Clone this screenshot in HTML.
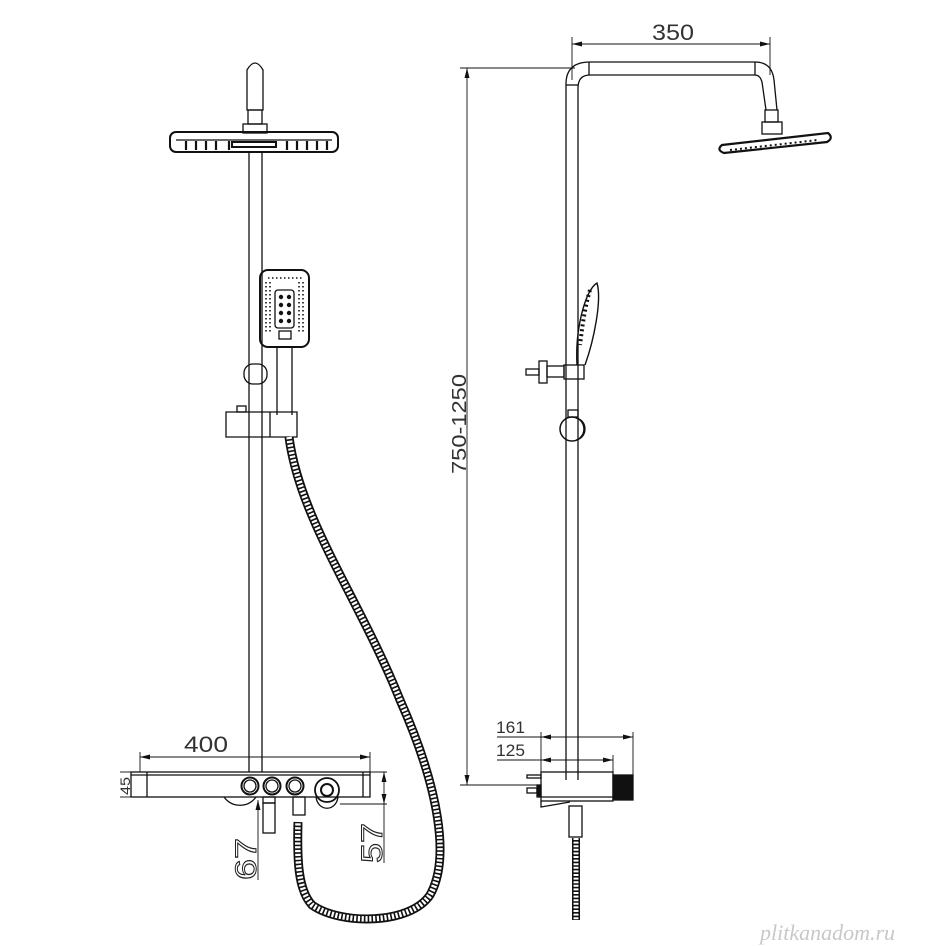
<!DOCTYPE html>
<html><head><meta charset="utf-8"><style>html,body{margin:0;background:#fff}svg{display:block}</style></head><body>
<svg width="946" height="946" viewBox="0 0 946 946" xmlns="http://www.w3.org/2000/svg" font-family="Liberation Sans, sans-serif">
<g fill="none" stroke="#111" stroke-width="1.3">
<!-- LEFT VIEW -->
<path d="M247,110 V70 Q255,56 263,70 V110 Z"/>
<rect x="248" y="110" width="14" height="14"/>
<rect x="243" y="124" width="24" height="9"/>
<rect x="170" y="132" width="168" height="20" rx="6" stroke-width="2"/>
<line x1="176" y1="140" x2="332" y2="140"/>
<g stroke-width="2.2">
<path d="M186,141v9M196,141v9M206,141v9M216,141v9M229,141v9M287,141v9M297,141v9M307,141v9M317,141v9M327,141v9"/>
</g>
<rect x="232" y="142" width="44" height="5" stroke-width="2"/>
<line x1="249" y1="152" x2="249" y2="772"/><line x1="262" y1="152" x2="262" y2="772"/>
<rect x="260" y="270" width="49" height="77" rx="8" stroke-width="2"/>
<rect x="275" y="290" width="19" height="38" rx="3"/>
<g fill="#111" stroke="none">
<circle cx="281" cy="297" r="2.2"/><circle cx="289" cy="297" r="2.2"/><circle cx="281" cy="305" r="2.2"/><circle cx="289" cy="305" r="2.2"/><circle cx="281" cy="313" r="2.2"/><circle cx="289" cy="313" r="2.2"/><circle cx="281" cy="321" r="2.2"/><circle cx="289" cy="321" r="2.2"/>
</g>
<g stroke="#111" stroke-width="1.6" stroke-dasharray="1.5 2.5">
<path d="M266,282v52M270,282v52M299,282v52M303,282v52M268,278h34"/>
</g>
<rect x="279" y="331" width="12" height="8"/>
<line x1="277" y1="347" x2="277" y2="415"/><line x1="292" y1="347" x2="292" y2="415"/>
<rect x="244" y="364" width="23" height="20" rx="9"/>
<path d="M226,412 H297 V437 H226 Z"/><rect x="237" y="406" width="9" height="6"/>
<line x1="270" y1="412" x2="270" y2="437"/>
<!-- hose -->
<path d="M289,437 C300,520 360,600 400,700 C440,790 450,860 430,895 C410,925 340,925 312,905 C298,890 297,860 298,822" stroke="#111" stroke-width="9"/>
<path d="M289,437 C300,520 360,600 400,700 C440,790 450,860 430,895 C410,925 340,925 312,905 C298,890 297,860 298,822" stroke="#fff" stroke-width="5.5" stroke-dasharray="2.2 1.6"/>
<!-- tray -->
<rect x="131" y="772" width="239" height="25"/>
<line x1="131" y1="775" x2="370" y2="775"/>
<line x1="147" y1="772" x2="147" y2="797"/><line x1="363" y1="772" x2="363" y2="797"/>
<circle cx="250" cy="786" r="8.5" stroke-width="2"/><circle cx="250" cy="786" r="6"/>
<circle cx="272" cy="786" r="8.5" stroke-width="2"/><circle cx="272" cy="786" r="6"/>
<circle cx="295" cy="786" r="8.5" stroke-width="2"/><circle cx="295" cy="786" r="6"/>
<path d="M316,797 C318,812 336,812 338,797"/><circle cx="327" cy="790" r="12" stroke-width="1.8"/><circle cx="327" cy="790" r="6" stroke-width="2"/>
<path d="M224,797 C232,808 248,808 256,797"/>
<rect x="263" y="797" width="12" height="6"/><rect x="263" y="803" width="12" height="30"/>
<rect x="293" y="797" width="12" height="18"/>
<!-- dims left -->
<g stroke-width="0.9">
<line x1="140" y1="757" x2="370" y2="757"/>
<line x1="140" y1="752" x2="140" y2="772"/><line x1="370" y1="752" x2="370" y2="772"/>
<line x1="120" y1="772" x2="131" y2="772"/><line x1="120" y1="797" x2="131" y2="797"/>
<line x1="258" y1="800" x2="258" y2="880"/>
<line x1="370" y1="772" x2="387" y2="772"/><line x1="340" y1="804" x2="387" y2="804"/>
<line x1="384" y1="772" x2="384" y2="863"/>
</g>
<g fill="#111" stroke="none">
<path d="M140,757 l10,-2.5 v5z M370,757 l-10,-2.5 v5z M258,800 l-2.5,10 h5z M384,772 l-2.5,10 h5z M384,804 l-2.5,-10 h5z"/>
</g>
<!-- RIGHT VIEW -->
<g stroke-width="0.9">
<line x1="467" y1="68" x2="467" y2="785"/>
<line x1="460" y1="68" x2="575" y2="68"/><line x1="460" y1="785" x2="540" y2="785"/>
<line x1="572" y1="37" x2="572" y2="80"/><line x1="770" y1="37" x2="770" y2="75"/>
<line x1="572" y1="44" x2="770" y2="44"/>
<line x1="497" y1="737" x2="633" y2="737"/><line x1="497" y1="760" x2="613" y2="760"/>
<line x1="541" y1="732" x2="541" y2="772"/><line x1="633" y1="732" x2="633" y2="800"/><line x1="613" y1="755" x2="613" y2="772"/>
</g>
<g fill="#111" stroke="none">
<path d="M467,68 l-2.5,10 h5z M467,785 l-2.5,-10 h5z M572,44 l10,-2.5 v5z M770,44 l-10,-2.5 v5z M541,737 l10,-2.5 v5z M633,737 l-10,-2.5 v5z M541,760 l10,-2.5 v5z M613,760 l-10,-2.5 v5z"/>
</g>
<path d="M566,780 V84 Q566,62 590,62 H755 Q772,62 774,80 L777,110"/>
<path d="M578,780 V88 Q578,75 590,75 H755 Q760,75 762,82 L766,110"/>
<line x1="589" y1="62" x2="589" y2="75"/><line x1="755" y1="62" x2="755" y2="75"/>
<line x1="566" y1="85" x2="578" y2="85"/>
<rect x="765" y="110" width="13" height="12"/><rect x="762" y="122" width="20" height="12"/>
<path d="M722,145 L828,133 Q834,138 827,142 L724,153 Q716,150 722,145 Z" stroke-width="2.2"/>
<path d="M730,150 l88,-10" stroke-dasharray="2 3" stroke-width="2"/>
<path d="M577,365 C575,330 585,290 597,283 C602,300 594,340 585,365" stroke-width="1.4"/>
<path d="M590,290 C584,310 582,330 580,345" stroke-width="4" stroke-dasharray="2 3"/>
<rect x="564" y="365" width="20" height="14"/>
<rect x="547" y="366" width="17" height="11"/>
<rect x="539" y="361" width="8" height="22"/>
<rect x="526" y="369" width="13" height="6"/>
<rect x="568" y="410" width="10" height="7"/>
<circle cx="572" cy="429" r="12" stroke-width="1.5"/><path d="M576,418 C588,420 588,438 576,440"/>
<rect x="541" y="772" width="72" height="29"/>
<line x1="541" y1="797" x2="613" y2="797"/>
<path d="M541,801 L541,807 L570,802"/>
<rect x="613" y="775" width="20" height="25" fill="#111"/>
<rect x="527" y="775" width="14" height="3"/><rect x="527" y="788" width="10" height="5"/><rect x="537" y="785" width="4" height="12" fill="#111"/>
<rect x="569" y="806" width="13" height="31"/>
<path d="M576,838 V920" stroke-width="8"/>
<path d="M576,838 V920" stroke="#fff" stroke-width="5" stroke-dasharray="2 1.6"/>
</g>
<g fill="#333" font-size="22" stroke="none">
<text x="184" y="752" textLength="44" lengthAdjust="spacingAndGlyphs">400</text>
<text x="652" y="40" textLength="42" lengthAdjust="spacingAndGlyphs">350</text>
<text x="496" y="733" font-size="17" textLength="29" lengthAdjust="spacingAndGlyphs">161</text>
<text x="496" y="756" font-size="17" textLength="29" lengthAdjust="spacingAndGlyphs">125</text>
<text transform="translate(466,474) rotate(-90)" font-size="20" textLength="100" lengthAdjust="spacingAndGlyphs">750-1250</text>
<text transform="translate(130,795) rotate(-90)" font-size="14" textLength="18" lengthAdjust="spacingAndGlyphs">45</text>
</g>
<g fill="none" stroke="#222" stroke-width="1" font-size="30">
<text transform="translate(256,880) rotate(-90)" textLength="42" lengthAdjust="spacingAndGlyphs">67</text>
<text transform="translate(382,863) rotate(-90)" textLength="40" lengthAdjust="spacingAndGlyphs">57</text>
</g>
<text x="760" y="940" font-family="Liberation Serif, serif" font-style="italic" font-size="22" fill="#c8c8c8">plitkanadom.ru</text>
</svg>
</body></html>
